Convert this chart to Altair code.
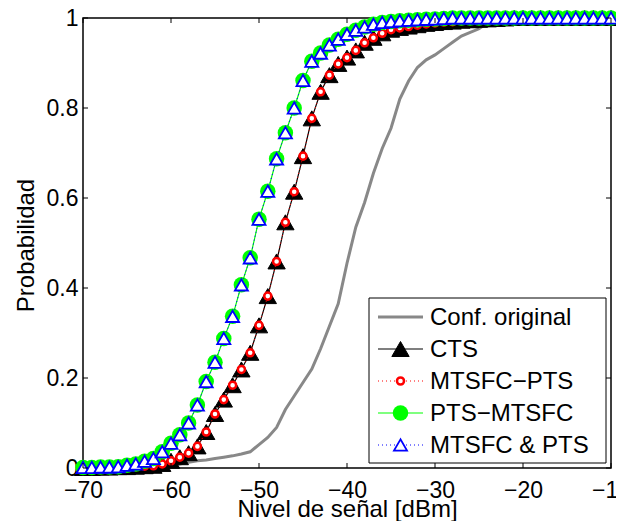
import altair as alt
import pandas as pd

# ---------------- data ----------------
level_db = list(range(-70, -9))  # -70 ... -10 dBm, 1 dB step

conf_original = [0, 0, 0, 0, 0, 0, 0, 0,
                 0.001, 0.003, 0.006, 0.009, 0.013, 0.016, 0.018, 0.021, 0.024, 0.027,
                 0.031, 0.036, 0.052, 0.068, 0.09, 0.13, 0.16, 0.19, 0.22, 0.265,
                 0.315, 0.365, 0.455, 0.535, 0.59, 0.655, 0.71, 0.755, 0.82, 0.86,
                 0.89, 0.907, 0.918, 0.932, 0.946, 0.96, 0.968, 0.976, 0.99, 0.995,
                 0.998, 1, 1, 1, 1, 1, 1, 1, 1, 1, 1, 1, 1]

cts = [0, 0, 0.001, 0.001, 0.002, 0.002, 0.003, 0.004,
       0.005, 0.009, 0.016, 0.024, 0.033, 0.048, 0.08, 0.12, 0.152, 0.184,
       0.219, 0.256, 0.317, 0.382, 0.459, 0.546, 0.614, 0.693, 0.777, 0.836,
       0.873, 0.898, 0.912, 0.928, 0.945, 0.956, 0.966, 0.974, 0.978, 0.981,
       0.984, 0.987, 0.989, 0.991, 0.992, 0.994, 0.995, 0.996, 0.997, 0.998,
       0.999, 1, 1, 1, 1, 1, 1, 1, 1, 1, 1, 1, 1]

mtsfc_pts = [0, 0, 0.001, 0.001, 0.002, 0.002, 0.003, 0.004,
             0.005, 0.009, 0.016, 0.024, 0.033, 0.048, 0.08, 0.12, 0.152, 0.184,
             0.219, 0.256, 0.317, 0.382, 0.459, 0.546, 0.614, 0.693, 0.777, 0.836,
             0.873, 0.898, 0.912, 0.928, 0.945, 0.956, 0.966, 0.974, 0.978, 0.981,
             0.984, 0.987, 0.989, 0.991, 0.992, 0.994, 0.995, 0.996, 0.997, 0.998,
             0.999, 1, 1, 1, 1, 1, 1, 1, 1, 1, 1, 1, 1]

pts_mtsfc = [0.001, 0.001, 0.002, 0.002, 0.003, 0.006, 0.009, 0.015,
             0.021, 0.036, 0.055, 0.074, 0.1, 0.14, 0.192, 0.235, 0.288, 0.337,
             0.407, 0.467, 0.553, 0.615, 0.687, 0.745, 0.8, 0.861, 0.904, 0.922,
             0.94, 0.953, 0.964, 0.973, 0.98, 0.986, 0.99, 0.992, 0.994, 0.995,
             0.996, 0.997, 0.998, 0.999,
             1, 1, 1, 1, 1, 1, 1, 1, 1, 1, 1, 1, 1, 1, 1, 1, 1, 1, 1]

mtsfc_and_pts = [0.001, 0.001, 0.002, 0.002, 0.003, 0.006, 0.009, 0.015,
                 0.021, 0.036, 0.055, 0.074, 0.1, 0.14, 0.192, 0.235, 0.288, 0.337,
                 0.407, 0.467, 0.553, 0.615, 0.687, 0.745, 0.8, 0.861, 0.904, 0.922,
                 0.94, 0.953, 0.964, 0.973, 0.98, 0.986, 0.99, 0.992, 0.994, 0.995,
                 0.996, 0.997, 0.998, 0.999,
                 1, 1, 1, 1, 1, 1, 1, 1, 1, 1, 1, 1, 1, 1, 1, 1, 1, 1, 1]

series_names = ["Conf. original", "CTS", "MTSFC\u2212PTS", "PTS\u2212MTSFC", "MTSFC & PTS"]
x_ticks = [-70, -60, -50, -40, -30, -20, -10]
y_ticks = [0, 0.2, 0.4, 0.6, 0.8, 1]

# ---------------- styling ----------------
FONT = "Liberation Sans"
FS_LABEL = 23
FS_TITLE = 24
FS_LEGEND = 24
W, H = 528, 450


def X(field):
    return alt.X(f"{field}:Q",
                 scale=alt.Scale(domain=[-70, -10], nice=False, zero=False),
                 axis=alt.Axis(values=x_ticks, format="d", title="Nivel de señal [dBm]",
                               ticks=False, domain=False, grid=False, labelFlush=False,
                               labelOverlap=False, labelPadding=11,
                               titleBaseline="alphabetic", titleY=48))


def Y(field):
    return alt.Y(f"{field}:Q",
                 scale=alt.Scale(domain=[0, 1], nice=False, zero=False),
                 axis=alt.Axis(values=y_ticks, format="~g", title="Probabilidad",
                               ticks=False, domain=False, grid=False, labelFlush=False,
                               labelOverlap=False, labelPadding=5,
                               titleBaseline="alphabetic", titleX=-50, titleY=H / 2 + 2))


def frame(vals):
    return pd.DataFrame({"db": level_db, "p": vals})


layers = []

# Conf. original
layers.append(alt.Chart(frame(conf_original)).mark_line(color="#888888", strokeWidth=3)
              .encode(x=X("db"), y=Y("p")))

# CTS
d = frame(cts)
layers.append(alt.Chart(d).mark_line(color="black", strokeWidth=1.2).encode(x=X("db"), y=Y("p")))
layers.append(alt.Chart(d).mark_point(shape="triangle-up", size=300, filled=True, fill="black",
                                      stroke="black", strokeWidth=1, opacity=1)
              .encode(x=X("db"), y=Y("p")))

# MTSFC-PTS
d = frame(mtsfc_pts)
layers.append(alt.Chart(d).mark_line(color="red", strokeWidth=1, strokeDash=[1, 3])
              .encode(x=X("db"), y=Y("p")))
layers.append(alt.Chart(d).mark_point(shape="circle", size=50, filled=True, fill="white",
                                      stroke="red", strokeWidth=2.5, opacity=1)
              .encode(x=X("db"), y=Y("p")))

# PTS-MTSFC
d = frame(pts_mtsfc)
layers.append(alt.Chart(d).mark_line(color="#00ff00", strokeWidth=1.2).encode(x=X("db"), y=Y("p")))
layers.append(alt.Chart(d).mark_point(shape="circle", size=240, filled=True, fill="#00ff00",
                                      opacity=1)
              .encode(x=X("db"), y=Y("p")))

# MTSFC & PTS
d = frame(mtsfc_and_pts)
layers.append(alt.Chart(d).mark_line(color="blue", strokeWidth=1, strokeDash=[1, 3])
              .encode(x=X("db"), y=Y("p")))
layers.append(alt.Chart(d).mark_point(shape="triangle-up", size=170, filled=True, fill="white",
                                      stroke="blue", strokeWidth=1.8, opacity=1)
              .encode(x=X("db"), y=Y("p")))

# inward ticks (MATLAB style, all four sides)
xt = pd.DataFrame({"db": x_ticks})
yt = pd.DataFrame({"p": y_ticks})
TL = 5
layers.append(alt.Chart(xt).mark_rule(color="black", strokeWidth=1)
              .encode(x=X("db"), y=alt.value(H), y2=alt.value(H - TL)))
layers.append(alt.Chart(xt).mark_rule(color="black", strokeWidth=1)
              .encode(x=X("db"), y=alt.value(0), y2=alt.value(TL)))
layers.append(alt.Chart(yt).mark_rule(color="black", strokeWidth=1)
              .encode(y=Y("p"), x=alt.value(0), x2=alt.value(TL)))
layers.append(alt.Chart(yt).mark_rule(color="black", strokeWidth=1)
              .encode(y=Y("p"), x=alt.value(W), x2=alt.value(W - TL)))

# legend (manual, MATLAB style)
LX0, LX1, LY0, LY1 = 286, 523, 280, 445
layers.append(alt.Chart(pd.DataFrame({"k": [0]})).mark_rect(fill="white", stroke="black", strokeWidth=1)
              .encode(x=alt.value(LX0), x2=alt.value(LX1), y=alt.value(LY0), y2=alt.value(LY1)))

legend_styles = [
    dict(line=dict(color="#888888", strokeWidth=3), marker=None),
    dict(line=dict(color="black", strokeWidth=1.2),
         marker=dict(shape="triangle-up", size=300, filled=True, fill="black", stroke="black", strokeWidth=1)),
    dict(line=dict(color="red", strokeWidth=1, strokeDash=[1, 3]),
         marker=dict(shape="circle", size=50, filled=True, fill="white", stroke="red", strokeWidth=2.5)),
    dict(line=dict(color="#00ff00", strokeWidth=1.2),
         marker=dict(shape="circle", size=240, filled=True, fill="#00ff00")),
    dict(line=dict(color="blue", strokeWidth=1, strokeDash=[1, 3]),
         marker=dict(shape="triangle-up", size=170, filled=True, fill="white", stroke="blue", strokeWidth=1.8)),
]
for i, (name, st) in enumerate(zip(series_names, legend_styles)):
    ly = 299 + 32 * i
    row = pd.DataFrame({"label": [name]})
    layers.append(alt.Chart(row).mark_rule(**st["line"])
                  .encode(x=alt.value(295), x2=alt.value(340), y=alt.value(ly)))
    if st["marker"] is not None:
        layers.append(alt.Chart(row).mark_point(opacity=1, **st["marker"])
                      .encode(x=alt.value(317.5), y=alt.value(ly)))
    layers.append(alt.Chart(row).mark_text(align="left", baseline="middle", font=FONT,
                                           fontSize=FS_LEGEND, color="black")
                  .encode(x=alt.value(347), y=alt.value(ly + 1), text="label:N"))

chart = (alt.layer(*layers)
         .properties(width=W, height=H, autosize="none",
                     padding={"left": 75, "top": 10, "right": 5, "bottom": 53},
                     background="white")
         .configure_view(stroke="black", strokeWidth=1.5)
         .configure_axis(labelFont=FONT, labelFontSize=FS_LABEL, labelColor="black",
                         titleFont=FONT, titleFontSize=FS_TITLE, titleFontWeight="normal",
                         titleColor="black"))

chart.save("out.html", embed_options={"renderer": "svg", "actions": False})
